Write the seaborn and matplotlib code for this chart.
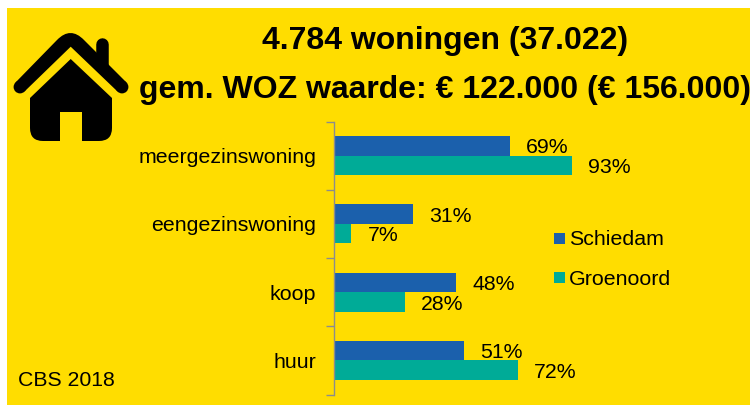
import numpy as np
import pandas as pd
import matplotlib
matplotlib.use("Agg")
import matplotlib.pyplot as plt
import seaborn as sns
from matplotlib.patches import Rectangle, PathPatch, Circle
from matplotlib.path import Path

# Values
categories = ["meergezinswoning", "eengezinswoning", "koop", "huur"]
schiedam = [69, 31, 48, 51]
groenoord = [93, 7, 28, 72]
series_names = ["Schiedam", "Groenoord"]
title_lines = ["4.784 woningen (37.022)", "gem. WOZ waarde: € 122.000 (€ 156.000)"]
source = "CBS 2018"

YELLOW = "#FFDD00"
colors = ["#1B60AC", "#00AB97"]
W, H = 750, 405

sns.set_theme(style="white")
plt.rcParams["font.family"] = ["Liberation Sans", "DejaVu Sans"]

df = pd.DataFrame({"categorie": categories, series_names[0]: schiedam, series_names[1]: groenoord})
df = df.melt(id_vars="categorie", var_name="gebied", value_name="pct")

fig = plt.figure(figsize=(W / 100, H / 100), dpi=100, facecolor="white")

# pixel overlay for background, icon and texts
bg = fig.add_axes([0, 0, 1, 1], zorder=0)
bg.set_xlim(0, W)
bg.set_ylim(H, 0)
bg.axis("off")
bg.add_patch(Rectangle((7, 8), W - 7, H - 8, color=YELLOW, lw=0))

# house icon
roof = Path([(15.5, 82.5), (57, 40), (70.5, 26), (84, 40), (126.5, 82.5), (117.5, 91.5), (70.7, 46.7), (24.5, 91.5), (15.5, 82.5)],
            [Path.MOVETO, Path.LINETO, Path.CURVE3, Path.CURVE3, Path.LINETO, Path.LINETO, Path.LINETO, Path.LINETO, Path.CLOSEPOLY])
bg.add_patch(PathPatch(roof, color="black", lw=0))
bg.add_patch(Circle((20, 87), 6.4, color="black", lw=0))
bg.add_patch(Circle((122, 87), 6.4, color="black", lw=0))
bg.plot([102, 102], [44, 66], color="black", lw=9, solid_capstyle="round")
verts = [(30, 98), (70.7, 59), (112, 98), (112, 128), (112, 141), (99, 141), (82, 141), (82, 112),
         (60, 112), (60, 141), (43, 141), (30, 141), (30, 128), (30, 98)]
codes = [Path.MOVETO, Path.LINETO, Path.LINETO, Path.LINETO, Path.CURVE3, Path.CURVE3, Path.LINETO, Path.LINETO,
         Path.LINETO, Path.LINETO, Path.LINETO, Path.CURVE3, Path.CURVE3, Path.CLOSEPOLY]
bg.add_patch(PathPatch(Path(verts, codes), color="black", lw=0))

bg.text(445, 49.5, title_lines[0], ha="center", va="baseline", fontsize=23, fontweight="bold", color="black")
bg.text(445, 98, title_lines[1], ha="center", va="baseline", fontsize=23, fontweight="bold", color="black")
bg.text(18, 386, source, ha="left", va="baseline", fontsize=15.3, color="black")

# bar chart
ax_left, ax_right, ax_top, ax_bottom = 333.5, 640, 121.5, 394.5
ax = fig.add_axes([ax_left / W, 1 - ax_bottom / H, (ax_right - ax_left) / W, (ax_bottom - ax_top) / H], zorder=1)
ax.patch.set_alpha(0)
sns.barplot(data=df, y="categorie", x="pct", hue="gebied", order=categories, hue_order=series_names,
            palette=colors, saturation=1, width=0.575, dodge=True, legend=False, linewidth=0, ax=ax)
ax.set_xlim(0, (ax_right - ax_left) / 2.56)
ax.set_ylim(3.5, -0.5)
ax.set_xlabel("")
ax.set_ylabel("")
ax.xaxis.set_visible(False)
for side in ["top", "right", "bottom"]:
    ax.spines[side].set_visible(False)
ax.spines["left"].set_color("#8C8C8C")
ax.spines["left"].set_linewidth(1)

# ticks sit between the categories
ax.set_yticks(np.arange(-0.5, 4, 1), minor=True)
ax.tick_params(axis="y", which="minor", length=6, width=1, color="#8C8C8C", left=True)
ax.tick_params(axis="y", which="major", length=0, pad=12.5, labelsize=15.4, labelcolor="black")

for container in ax.containers:
    labels = [f"{v:.0f}%" for v in container.datavalues]
    for t in ax.bar_label(container, labels=labels, padding=11.5, fontsize=15.3, color="black"):
        t.xyann = (11.5, -1.5)

# legend
for name, col, y, box_y in zip(series_names, colors, [245, 285], [238.5, 277.5]):
    bg.add_patch(Rectangle((554, box_y - 5.5), 11, 11, color=col, lw=0))
    bg.text(569, y, name, ha="left", va="baseline", fontsize=15.4, color="black")

fig.savefig("out.png", dpi=100)
